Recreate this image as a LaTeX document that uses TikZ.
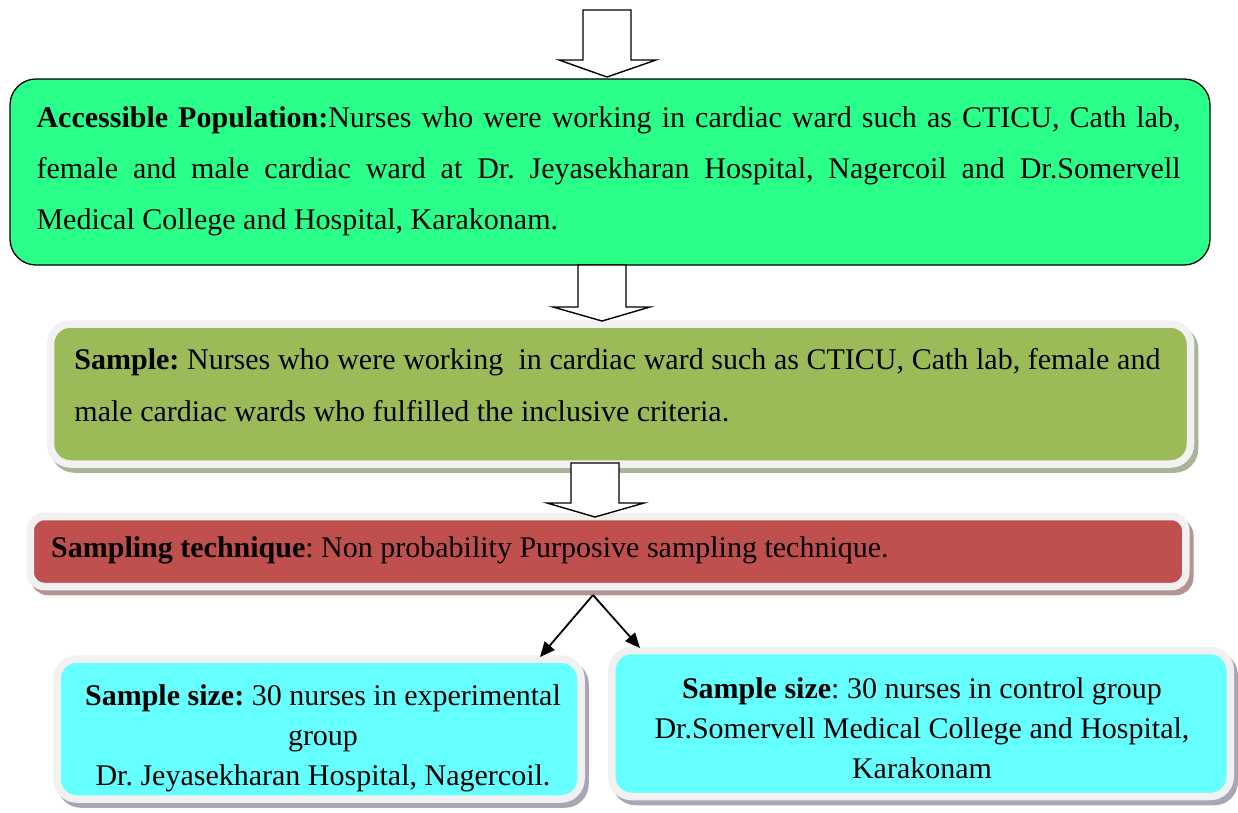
\documentclass[tikz,border=0pt]{standalone}
\usepackage{fontspec}
\setmainfont{Liberation Serif}
\usetikzlibrary{arrows.meta,calc}
\definecolor{greenbox}{HTML}{2AFF8A}
\definecolor{olivebox}{HTML}{9BBB59}
\definecolor{redbox}{HTML}{C0504D}
\definecolor{cyanbox}{HTML}{66FFFF}
\definecolor{framecol}{HTML}{F1F1F1}
\definecolor{shOlive}{HTML}{A7B497}
\definecolor{shRed}{HTML}{B39393}
\definecolor{shCyan}{HTML}{A8A6B6}
\frenchspacing
\begin{document}
\begin{tikzpicture}[x=1pt,y=-1pt,
  plainbox/.style={draw=black, line width=1.3pt, fill=greenbox, rounded corners=26pt, inner sep=0pt},
  framedbox/.style 2 args={fill=#1, draw=framecol, line width=7.5pt, rounded corners=20pt, inner sep=0pt,
     preaction={draw=#2, fill=#2, line width=7.5pt, transform canvas={shift={(4pt,-5pt)}}}},
  txt/.style={inner sep=0pt, font=\fontsize{30}{51}\selectfont},
  blockarrow/.style={draw=black, fill=white, line width=1.4pt, line join=miter},
  branch/.style={draw=black, line width=1.8pt, -{Triangle[length=15pt,width=13pt]}}
]
\useasboundingbox (0,0) rectangle (1238,812);

% boxes
\node[plainbox, minimum width=1200pt, minimum height=186pt] (green) at (610,172) {};
\node[framedbox={olivebox}{shOlive}, minimum width=1140pt, minimum height=140pt] (sample) at (620.5,394) {};
\node[framedbox={redbox}{shRed}, rounded corners=14pt, minimum width=1155.5pt, minimum height=70pt] (tech) at (608,551.5) {};
\node[framedbox={cyanbox}{shCyan}, minimum width=524pt, minimum height=140pt] (exp) at (319,729) {};
\node[framedbox={cyanbox}{shCyan}, minimum width=618.5pt, minimum height=146pt] (ctrl) at (921,723.5) {};

% texts
\node[txt, anchor=base west] (gtxt) at ($(green.north west)+(27,49)$) {\parbox[t]{1144pt}{\fontsize{30}{51}\selectfont
\makebox[1144pt][s]{\textbf{Accessible Population:}Nurses who were working in cardiac ward such as CTICU, Cath lab,}\\
\makebox[1144pt][s]{female and male cardiac ward at Dr. Jeyasekharan Hospital, Nagercoil and Dr.Somervell}\\
Medical College and Hospital, Karakonam.}};

\node[txt, anchor=base west] (stxt) at ($(sample.north west)+(27.5,49)$) {\parbox[t]{1086pt}{\fontsize{30}{52}\selectfont
\makebox[1086pt][s]{\textbf{Sample:} Nurses who were working\ \ in cardiac ward such as CTICU, Cath lab, female and}\\
male cardiac wards who fulfilled the inclusive criteria.}};

\node[txt, anchor=base west] (ttxt) at ($(tech.north west)+(24.5,44.5)$) {\textbf{Sampling technique}: Non probability Purposive sampling technique.};

\node[txt, anchor=base] (etxt) at ($(exp.north)+(4,50)$) {\parbox[t]{520pt}{\centering\fontsize{30}{40}\selectfont
\textbf{Sample size:} 30 nurses in experimental\\ group\\ Dr. Jeyasekharan Hospital, Nagercoil.}};

\node[txt, anchor=base] (ctxt) at ($(ctrl.north)+(1,51.5)$) {\parbox[t]{610pt}{\centering\fontsize{30}{40}\selectfont
\textbf{Sample size}: 30 nurses in control group\\ Dr.Somervell Medical College and Hospital,\\ Karakonam}};

% block arrows
\coordinate (t1) at (607,77);
\coordinate (t2) at (602,321);
\coordinate (t3) at (595,517);
\draw[blockarrow] (t1) -- ++(-48,-17) -- ++(24,0) -- ++(0,-50) -- ++(48,0) -- ++(0,50) -- ++(25,0) -- cycle;
\draw[blockarrow] (t2) -- ++(-49,-14) -- ++(25,0) -- ++(0,-42) -- ++(48,0) -- ++(0,42) -- ++(24,0) -- cycle;
\draw[blockarrow] (t3) -- ++(-48,-14) -- ++(24,0) -- ++(0,-40) -- ++(48,0) -- ++(0,40) -- ++(25,0) -- cycle;

% branch arrows
\coordinate (split) at (593,595);
\coordinate (expin) at (540,657);
\coordinate (ctrlin) at (640,648);
\draw[branch] (split) -- (expin);
\draw[branch] (split) -- (ctrlin);
\end{tikzpicture}
\end{document}
